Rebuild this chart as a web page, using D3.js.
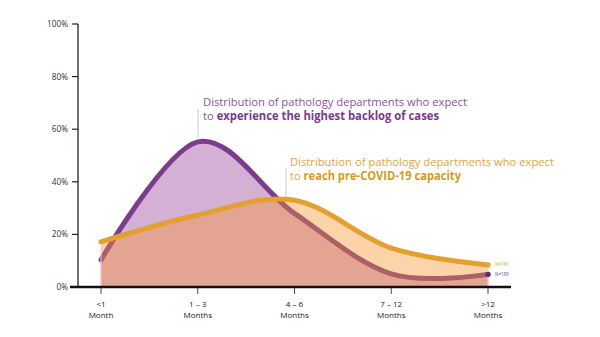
<!DOCTYPE html>
<html><head><meta charset="utf-8">
<script src="https://cdn.jsdelivr.net/npm/d3@7"></script>
<style>body{margin:0;background:#fff}svg{display:block}</style>
</head><body>
<svg id="c" width="600" height="337"></svg>
<script>
const catTop = ["<1", "1 – 3", "4 – 6", "7 – 12", ">12"];
const catBottom = ["Month", "Months", "Months", "Months", "Months"];
const backlog = [10.3, 55.2, 28, 5.0, 4.8];
const capacity = [17.2, 27.4, 33, 14.8, 8.4];
const yTicks = [0, 20, 40, 60, 80, 100];
const nLabels = ["N=186", "N=189"];

const svg = d3.select("#c");
const x = d3.scalePoint().domain(d3.range(catTop.length)).range([101, 488]);
const y = d3.scaleLinear().domain([0, 100]).range([287, 24]);
const curve = d3.curveCatmullRom.alpha(0);

const area = d3.area().x((d, i) => x(i)).y0(y(0)).y1(d => y(d)).curve(curve);
const line = d3.line().x((d, i) => x(i)).y(d => y(d)).curve(curve);

// purple area & line
svg.append("path").attr("d", area(backlog)).attr("fill", "#d5b0d5")
  .attr("stroke", "#f4c8f0").attr("stroke-width", 1.5);
svg.append("path").attr("d", line(backlog)).attr("fill", "none")
  .attr("stroke", "#7a3d8c").attr("stroke-width", 5).attr("stroke-linecap", "round");
// yellow area (translucent) & line
svg.append("path").attr("d", area(capacity)).attr("fill", "#f7932a").attr("fill-opacity", 0.4)
  .attr("stroke", "#f9c8e8").attr("stroke-width", 1);
svg.append("path").attr("d", line(capacity)).attr("fill", "none")
  .attr("stroke", "#e3a031").attr("stroke-width", 5).attr("stroke-linecap", "round");

// end dots and N labels
const last = catTop.length - 1;
svg.append("circle").attr("cx", x(last)).attr("cy", y(capacity[last])).attr("r", 2.6).attr("fill", "#d8b028");
svg.append("circle").attr("cx", x(last)).attr("cy", y(backlog[last])).attr("r", 2.6).attr("fill", "#5a2a86");
svg.append("text").attr("x", x(last) + 7).attr("y", y(capacity[last]) + 1.5)
  .attr("font-family", "Open Sans").attr("font-size", 4.5).attr("fill", "#c9a83a").text(nLabels[0]);
svg.append("text").attr("x", x(last) + 7).attr("y", y(backlog[last]) + 1.5)
  .attr("font-family", "Open Sans").attr("font-size", 4.5).attr("fill", "#6a4a9a").text(nLabels[1]);

// y axis
const yAxis = svg.append("g");
yAxis.append("line").attr("x1", 78).attr("x2", 78).attr("y1", y(100)).attr("y2", y(0))
  .attr("stroke", "#222").attr("stroke-width", 1.3);
yTicks.forEach(t => {
  yAxis.append("line").attr("x1", 72).attr("x2", 78).attr("y1", y(t)).attr("y2", y(t))
    .attr("stroke", "#222").attr("stroke-width", 1.2);
  yAxis.append("text").attr("x", 68).attr("y", y(t) + 3).attr("text-anchor", "end")
    .attr("font-family", "Open Sans").attr("font-size", 8.3).attr("fill", "#333").text(t + "%");
});

// x axis
svg.append("line").attr("x1", 70).attr("x2", 511).attr("y1", y(0)).attr("y2", y(0))
  .attr("stroke", "#111").attr("stroke-width", 2.5);
catTop.forEach((c, i) => {
  svg.append("line").attr("x1", x(i)).attr("x2", x(i)).attr("y1", 288).attr("y2", 294)
    .attr("stroke", "#333").attr("stroke-width", 0.9);
  svg.append("text").attr("x", x(i)).attr("y", 307).attr("text-anchor", "middle")
    .attr("font-family", "Open Sans").attr("font-size", 8).attr("fill", "#222").text(c);
  svg.append("text").attr("x", x(i)).attr("y", 318).attr("text-anchor", "middle")
    .attr("font-family", "Open Sans").attr("font-size", 8).attr("fill", "#222").text(catBottom[i]);
});

// annotations
function annot(lx, ly1, ly2, tx, ty, c1, c2, line1, plain, bold, w1, w2) {
  svg.append("line").attr("x1", lx).attr("x2", lx).attr("y1", ly1).attr("y2", ly2)
    .attr("stroke", "#c8b8c8").attr("stroke-width", 0.8);
  svg.append("text").attr("x", tx).attr("y", ty).attr("font-family", "Open Sans")
    .attr("font-size", 11.5).attr("fill", c1).attr("textLength", w1).attr("lengthAdjust", "spacingAndGlyphs").text(line1);
  const t = svg.append("text").attr("x", tx).attr("y", ty + 14).attr("font-family", "Open Sans")
    .attr("font-size", 11.5).attr("textLength", w2).attr("lengthAdjust", "spacingAndGlyphs");
  t.append("tspan").attr("fill", c1).text(plain);
  t.append("tspan").attr("fill", c2).attr("font-weight", "bold").text(bold);
}
annot(198, 109, 138, 203, 106, "#8b539b", "#7b3a8b",
  "Distribution of pathology departments who expect", "to ", "experience the highest backlog of cases", 264, 236);
annot(286, 168, 197, 290, 166, "#e2a640", "#d79a22",
  "Distribution of pathology departments who expect", "to ", "reach pre-COVID-19 capacity", 264, 171);
</script>
</body></html>
